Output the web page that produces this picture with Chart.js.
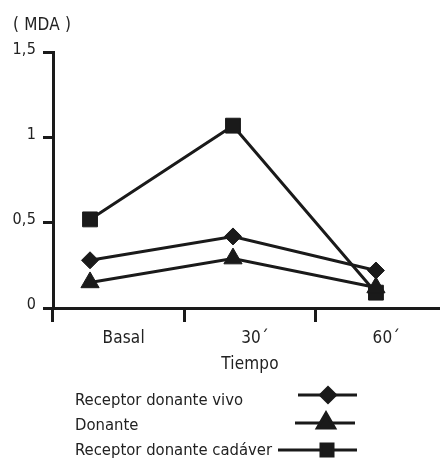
<!DOCTYPE html>
<html>
<head>
<meta charset="utf-8">
<script src="https://cdn.jsdelivr.net/npm/chart.js@4/dist/chart.umd.min.js"></script>
<style>
  html, body { margin: 0; padding: 0; background: #fff; overflow: hidden; }
  #wrap { width: 460px; height: 460px; }
</style>
</head>
<body>
<div id="wrap"><canvas id="c" width="460" height="460"></canvas></div>
<script>
// ---- data ----
const categories = ['Basal', '30\u00B4', '60\u00B4'];
const vivo = [0.28, 0.42, 0.22];
const donante = [0.15, 0.29, 0.12];
const cadaver = [0.52, 1.07, 0.09];
const seriesNames = ['Receptor donante vivo', 'Donante', 'Receptor donante cad\u00E1ver'];
const yTicks = [0, 0.5, 1, 1.5];
const yTitle = '( MDA )';
const xTitle = 'Tiempo';

const FONT = "'DejaVu Sans Condensed', 'DejaVu Sans', sans-serif";
const INK = '#1a1a1a';
const TXT = '#222';
const SPACING = '0.2px';

Chart.defaults.font.family = FONT;
Chart.defaults.font.size = 17;
Chart.defaults.color = TXT;

const toPts = arr => arr.map((v, i) => ({ x: i, y: v }));

const spacingPlugin = {
  id: 'spacing',
  beforeUpdate(chart) { chart.ctx.letterSpacing = SPACING; },
  beforeDraw(chart) { chart.ctx.letterSpacing = SPACING; }
};

const legendPlugin = {
  id: 'customLegend',
  afterDraw(chart) {
    const ctx = chart.ctx;
    const a = chart.chartArea;
    const textX = a.left + 22;
    const rows = [
      { base: a.bottom + 96.5, lineY: a.bottom + 87, x1: 298, x2: 357, cx: 328, r: 7.5 },
      { base: a.bottom + 121.5, lineY: a.bottom + 115, x1: 295, x2: 355, cx: 326, r: 10 },
      { base: a.bottom + 146.5, lineY: a.bottom + 142, x1: 278, x2: 357, cx: 327, r: 8.5 }
    ];
    ctx.save();
    ctx.letterSpacing = '0px';
    ctx.font = '16.5px ' + FONT;
    ctx.textBaseline = 'alphabetic';
    ctx.textAlign = 'left';
    chart.data.datasets.forEach((ds, i) => {
      const r = rows[i];
      ctx.fillStyle = TXT;
      ctx.fillText(ds.label, textX, r.base);
      ctx.beginPath();
      ctx.strokeStyle = INK;
      ctx.lineWidth = 3;
      ctx.moveTo(r.x1, r.lineY);
      ctx.lineTo(r.x2, r.lineY);
      ctx.stroke();
      ctx.fillStyle = INK;
      Chart.helpers.drawPoint(ctx, {
        pointStyle: ds.pointStyle, radius: r.r, borderWidth: 1, rotation: 0
      }, r.cx, r.lineY);
    });
    ctx.restore();
  }
};

const mkDs = (label, vals, style, radius) => ({
  label, data: toPts(vals),
  xAxisID: 'xd', yAxisID: 'y',
  borderColor: INK, borderWidth: 3,
  pointStyle: style, pointRadius: radius, pointHoverRadius: radius,
  pointBackgroundColor: INK, pointBorderColor: INK, pointBorderWidth: 1,
  tension: 0, fill: false
});

new Chart(document.getElementById('c'), {
  type: 'line',
  data: {
    datasets: [
      mkDs(seriesNames[0], vivo, 'rectRot', 8.5),
      mkDs(seriesNames[1], donante, 'triangle', 10.5),
      mkDs(seriesNames[2], cadaver, 'rect', 10.5)
    ]
  },
  options: {
    responsive: false,
    animation: false,
    events: [],
    layout: { padding: { left: 13, right: 13, top: 0, bottom: 85 } },
    plugins: {
      legend: { display: false },
      tooltip: { enabled: false },
      title: {
        display: true, text: yTitle, align: 'start',
        font: { size: 17, weight: 'normal' }, color: TXT,
        padding: { top: 15, bottom: 17 }
      }
    },
    scales: {
      x: {
        type: 'category', labels: categories, position: 'bottom',
        offset: true, bounds: 'ticks', min: categories[0], max: categories[categories.length - 1],
        afterFit: s => { s.height = 67; },
        grid: { offset: true, drawOnChartArea: false, tickLength: 14, tickWidth: 3, tickColor: INK, lineWidth: 3, color: INK },
        border: { display: true, color: INK, width: 3 },
        ticks: { padding: 6, labelOffset: 5, autoSkip: false, maxRotation: 0, color: TXT },
        title: { display: true, text: xTitle, color: TXT, padding: { top: 2, bottom: 0 } }
      },
      xd: {
        type: 'linear', display: false, position: 'bottom',
        min: -0.259, max: 2.497
      },
      y: {
        type: 'linear', position: 'left',
        min: 0, max: 1.5,
        afterFit: s => { s.width = 40; },
        afterBuildTicks: s => { s.ticks = yTicks.map(v => ({ value: v })); },
        grid: { drawOnChartArea: false, tickLength: 10, tickWidth: 3, tickColor: INK, lineWidth: 3, color: INK },
        border: { display: true, color: INK, width: 3 },
        ticks: { padding: 7, labelOffset: -3, font: { size: 16 }, color: TXT, callback: v => String(v).replace('.', ',') }
      }
    }
  },
  plugins: [spacingPlugin, legendPlugin]
});
</script>
</body>
</html>
